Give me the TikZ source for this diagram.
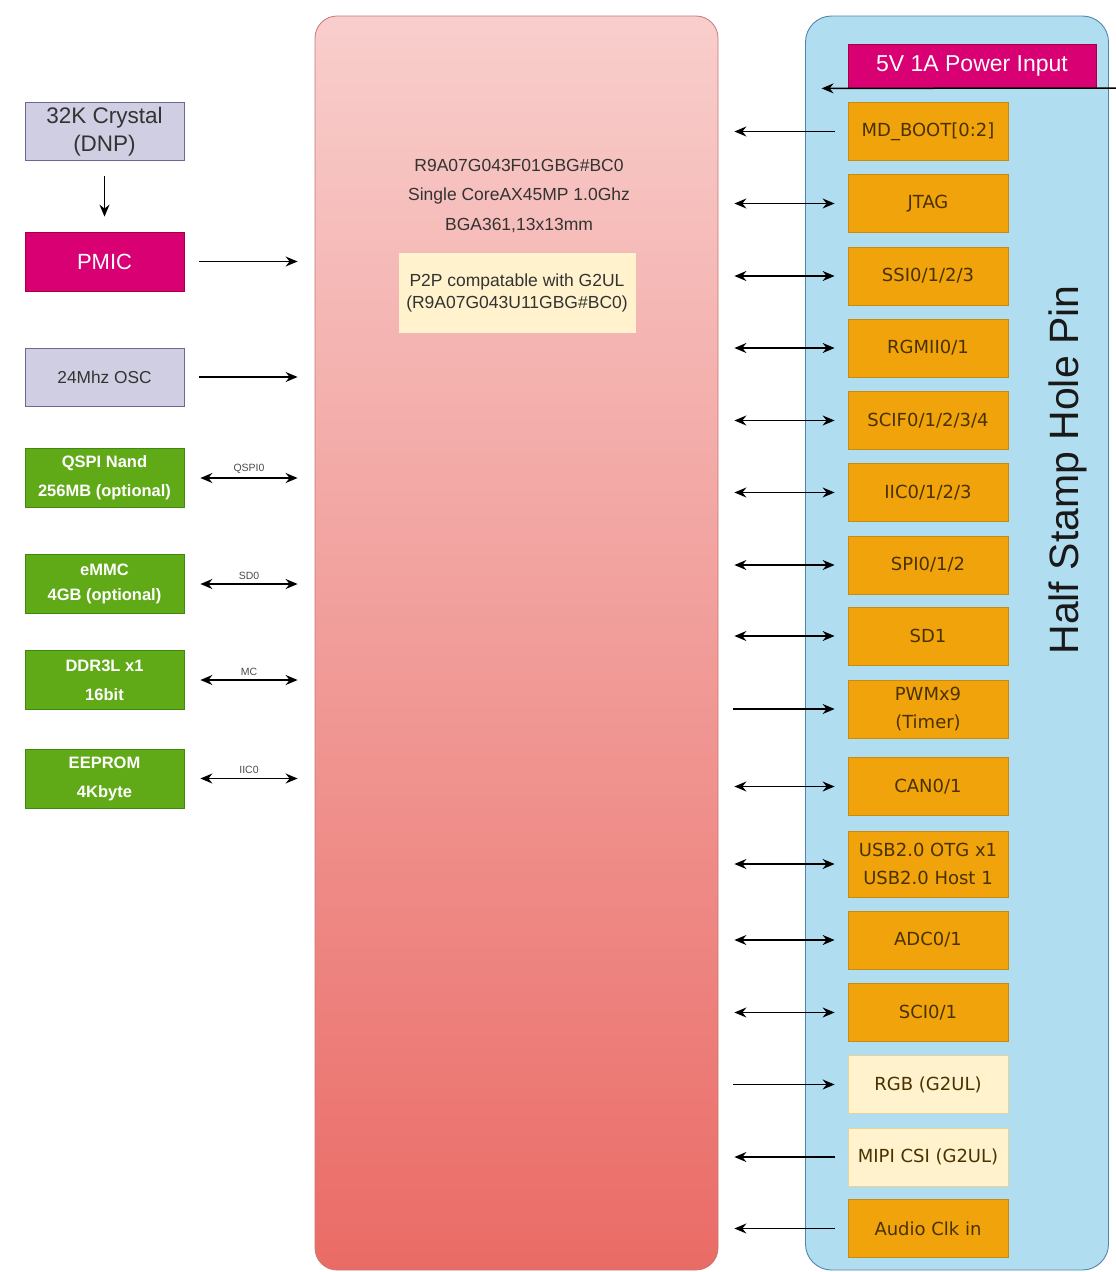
\documentclass[tikz,border=0pt]{standalone}
\usepackage{fontspec}
\setmainfont{Liberation Sans}
\newfontfamily\dvfont{DejaVu Sans}
\usetikzlibrary{arrows.meta}
\definecolor{chipedge}{HTML}{C87874}
\definecolor{chiptop}{HTML}{F8CECC}
\definecolor{chipbot}{HTML}{EA6B66}
\definecolor{pinfill}{HTML}{B1DDF0}
\definecolor{pinedge}{HTML}{4F86AE}
\definecolor{magfill}{HTML}{D80073}
\definecolor{magedge}{HTML}{A50040}
\definecolor{orfill}{HTML}{F0A30A}
\definecolor{oredge}{HTML}{C88A10}
\definecolor{ortext}{HTML}{4A3200}
\definecolor{creamfill}{HTML}{FFF2CC}
\definecolor{creamedge}{HTML}{D6B656}
\definecolor{lavfill}{HTML}{D0CEE2}
\definecolor{lavedge}{HTML}{6D6890}
\definecolor{grfill}{HTML}{60A917}
\definecolor{gredge}{HTML}{3E8A10}
\tikzset{
  pinbox/.style={rectangle, draw=oredge, fill=orfill, line width=0.8pt,
    minimum width=160pt, minimum height=58pt, inner sep=0pt, align=center,
    text=ortext, font=\dvfont\fontsize{18}{28.5}\selectfont},
  creambox/.style={pinbox, fill=creamfill, draw=creamedge!60},
  lavbox/.style={rectangle, draw=lavedge, fill=lavfill, line width=0.8pt,
    minimum width=159pt, minimum height=58pt, inner sep=0pt, align=center, text=black!80},
  grbox/.style={rectangle, draw=gredge, fill=grfill, line width=0.8pt,
    minimum width=159pt, minimum height=59pt, inner sep=0pt, align=center, text=white,
    font=\bfseries\fontsize{16.5}{29}\selectfont},
  magbox/.style={rectangle, draw=magedge, fill=magfill, line width=0.8pt,
    inner sep=0pt, align=center, text=white},
  arr/.style={line width=1.5pt, -{Stealth[length=12pt,width=10pt,inset=4pt]}},
  biarr/.style={line width=1.5pt, {Stealth[length=12pt,width=10pt,inset=4pt]}-{Stealth[length=12pt,width=10pt,inset=4pt]}},
  buslbl/.style={above=4pt, font=\fontsize{10.5}{12}\selectfont, text=black!70, inner sep=0pt},
}
\begin{document}
\begin{tikzpicture}[x=1pt,y=-1pt]
\useasboundingbox[fill=white] (0,0) rectangle (1116,1272);

% main chip
\node[rectangle, rounded corners=22pt, draw=chipedge, line width=0.8pt,
  top color=chiptop, bottom color=chipbot, minimum width=403pt, minimum height=1254pt,
  inner sep=0pt] (chip) at (516.5,643) {};
\node[align=center, text=black!80, font=\fontsize{17.5}{29.5}\selectfont] (chiptxt) at (519,196)
  {R9A07G043F01GBG\#BC0\\Single CoreAX45MP 1.0Ghz\\BGA361,13x13mm};
\node[rectangle, fill=creamfill, minimum width=237pt, minimum height=80pt, inner sep=0pt,
  align=center, text=black!80, font=\fontsize{17.5}{22}\selectfont] (p2p) at (517,293)
  {P2P compatable with G2UL\\(R9A07G043U11GBG\#BC0)};

% pin panel
\node[rectangle, rounded corners=26pt, draw=pinedge, fill=pinfill, line width=0.9pt,
  minimum width=303pt, minimum height=1254pt, inner sep=0pt] (pins) at (957,643) {};
\node[rotate=90, text=black!90, font=\fontsize{41}{45}\selectfont] (hslbl) at (1068,470) {Half Stamp Hole Pin};

\node[magbox, minimum width=248pt, minimum height=44pt, font=\fontsize{23}{26}\selectfont] (pwr) at (972,66) {\raisebox{-2pt}{5V 1A Power Input}};
\coordinate (pwrsrc) at (1116,88);
\draw[arr] (pwrsrc) -- ([xshift=-26pt]pwr.south west);

% pin boxes
\node[pinbox] (mdboot) at (928,131.5) {MD\_BOOT[0:2]};
\node[pinbox] (jtag) at (928,203.5) {JTAG};
\node[pinbox] (ssi) at (928,276) {SSI0/1/2/3};
\node[pinbox] (rgmii) at (928,348) {RGMII0/1};
\node[pinbox] (scif) at (928,420.5) {SCIF0/1/2/3/4};
\node[pinbox] (iic) at (928,492.5) {IIC0/1/2/3};
\node[pinbox] (spi) at (928,565) {SPI0/1/2};
\node[pinbox] (sdone) at (928,636) {SD1};
\node[pinbox] (pwm) at (928,709) {PWMx9\\(Timer)};
\node[pinbox] (can) at (928,786.5) {CAN0/1};
\node[pinbox, minimum height=66pt] (usb) at (928,864) {USB2.0 OTG x1\\USB2.0 Host 1};
\node[pinbox] (adc) at (928,940) {ADC0/1};
\node[pinbox] (sci) at (928,1012.5) {SCI0/1};
\node[creambox] (rgb) at (928,1084.5) {RGB (G2UL)};
\node[creambox] (mipi) at (928,1157) {MIPI CSI (G2UL)};
\node[pinbox] (audio) at (928,1228.5) {Audio Clk in};

% right-side arrows
\draw[arr] ([xshift=-13pt]mdboot.west) -- ([xshift=16pt]chip.east |- mdboot.west);
\foreach \n in {jtag,ssi,rgmii,scif,iic,spi,sdone,can,usb,adc,sci}
  \draw[biarr] ([xshift=16pt]chip.east |- \n.west) -- ([xshift=-13pt]\n.west);
\draw[arr] ([xshift=15pt]chip.east |- pwm.west) -- ([xshift=-13pt]pwm.west);
\draw[arr] ([xshift=15pt]chip.east |- rgb.west) -- ([xshift=-13pt]rgb.west);
\draw[arr] ([xshift=-13pt]mipi.west) -- ([xshift=16pt]chip.east |- mipi.west);
\draw[arr] ([xshift=-13pt]audio.west) -- ([xshift=16pt]chip.east |- audio.west);

% left side
\node[lavbox, font=\fontsize{22.5}{28}\selectfont] (xtal) at (104.5,131.5) {32K Crystal\\(DNP)};
\node[magbox, minimum width=159pt, minimum height=59pt, font=\fontsize{22}{26}\selectfont] (pmic) at (104.5,261.5) {PMIC};
\node[lavbox, font=\fontsize{17.3}{20}\selectfont] (osc) at (104.5,377) {24Mhz OSC};
\node[grbox] (qspi) at (104.5,478) {QSPI Nand\\256MB (optional)};
\node[grbox, font=\bfseries\fontsize{16.5}{25}\selectfont] (emmc) at (104.5,584) {eMMC\\4GB (optional)};
\node[grbox] (ddr) at (104.5,680) {DDR3L x1\\16bit};
\node[grbox] (eeprom) at (104.5,778.5) {EEPROM\\4Kbyte};

\draw[arr] ([yshift=-15pt]xtal.south) -- ([yshift=15pt]pmic.north);
\draw[arr] ([xshift=15pt]pmic.east) -- ([xshift=-17pt]chip.west |- pmic.east);
\draw[arr] ([xshift=15pt]osc.east) -- ([xshift=-17pt]chip.west |- osc.east);
\draw[biarr] ([xshift=16pt]qspi.east) -- node[buslbl] {QSPI0} ([xshift=-17pt]chip.west |- qspi.east);
\draw[biarr] ([xshift=16pt]emmc.east) -- node[buslbl] {SD0} ([xshift=-17pt]chip.west |- emmc.east);
\draw[biarr] ([xshift=16pt]ddr.east) -- node[buslbl] {MC} ([xshift=-17pt]chip.west |- ddr.east);
\draw[biarr] ([xshift=16pt]eeprom.east) -- node[buslbl] {IIC0} ([xshift=-17pt]chip.west |- eeprom.east);
\end{tikzpicture}
\end{document}
